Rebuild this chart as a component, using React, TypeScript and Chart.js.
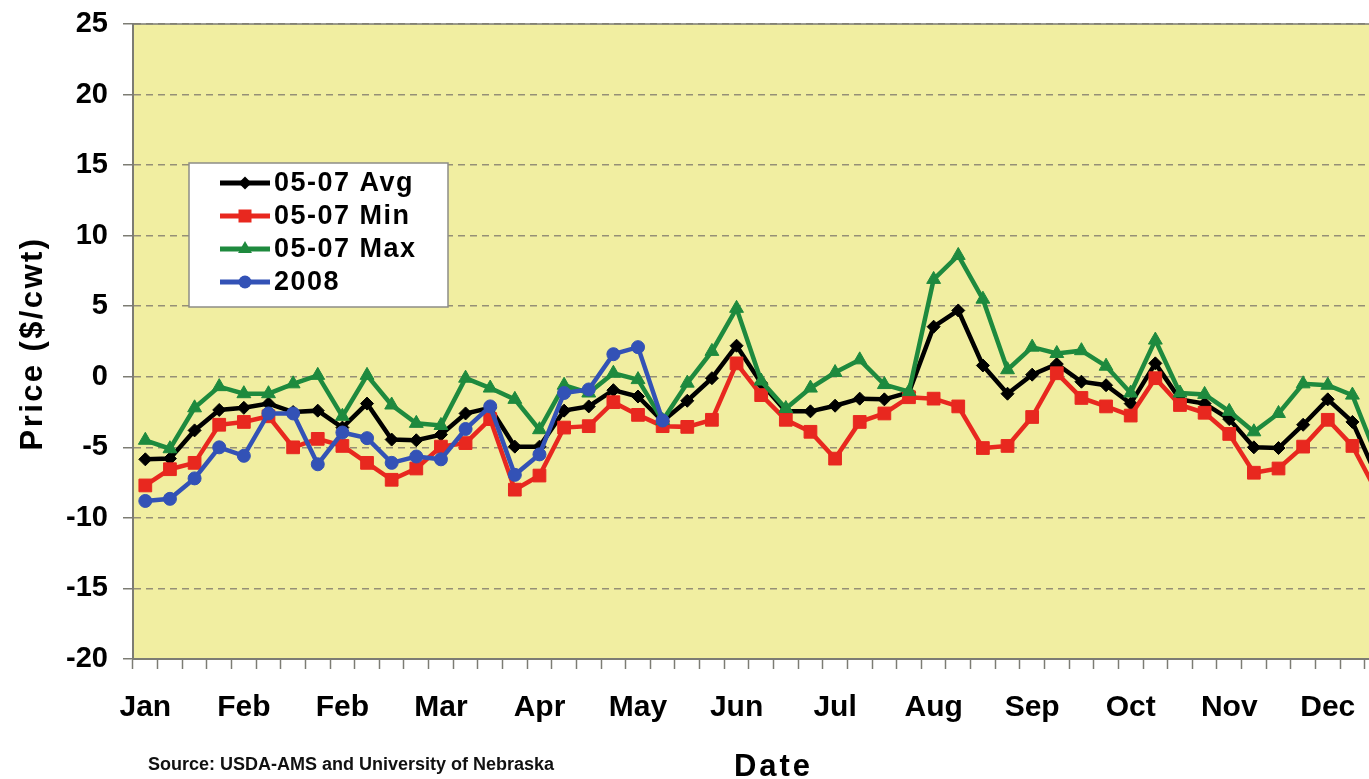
import React, { useEffect, useRef } from 'react';
import { Chart, registerables } from 'chart.js';

Chart.register(...registerables);

// ---------- data ----------
const MONTH_TICKS = ['Jan', 'Feb', 'Feb', 'Mar', 'Apr', 'May', 'Jun', 'Jul', 'Aug', 'Sep', 'Oct', 'Nov', 'Dec'];
const WEEKS = Array.from({ length: 52 }, (_, i) => `Week ${i + 1}`);

const AVG_0507 = [
  -5.85, -5.8, -3.8, -2.35, -2.2, -1.9, -2.5, -2.4, -3.6, -1.9,
  -4.45, -4.5, -4.1, -2.6, -2.2, -4.95, -4.95, -2.4, -2.1, -0.95,
  -1.4, -3.15, -1.7, -0.1, 2.2, -0.45, -2.45, -2.45, -2.05, -1.55,
  -1.6, -1.1, 3.55, 4.7, 0.8, -1.2, 0.15, 0.9, -0.35, -0.6,
  -1.9, 0.95, -1.6, -1.9, -3.0, -5.0, -5.05, -3.4, -1.6, -3.2,
  -7.1, -6.4,
];
const MIN_0507 = [
  -7.7, -6.55, -6.1, -3.4, -3.2, -2.8, -5.0, -4.4, -4.9, -6.1,
  -7.3, -6.5, -4.95, -4.7, -3.0, -8.0, -7.0, -3.6, -3.5, -1.8,
  -2.7, -3.5, -3.55, -3.05, 0.95, -1.3, -3.05, -3.9, -5.8, -3.2,
  -2.6, -1.45, -1.55, -2.1, -5.05, -4.9, -2.85, 0.25, -1.5, -2.1,
  -2.75, -0.1, -2.0, -2.55, -4.05, -6.8, -6.5, -4.95, -3.05, -4.9,
  -8.2, -7.6,
];
const MAX_0507 = [
  -4.5, -5.1, -2.2, -0.7, -1.2, -1.2, -0.5, 0.1, -2.8, 0.1,
  -2.0, -3.3, -3.45, -0.1, -0.8, -1.6, -3.75, -0.6, -1.15, 0.25,
  -0.2, -3.1, -0.45, 1.8, 4.85, -0.3, -2.25, -0.8, 0.3, 1.2,
  -0.55, -1.05, 6.9, 8.6, 5.5, 0.5, 2.1, 1.65, 1.85, 0.75,
  -1.15, 2.6, -1.15, -1.25, -2.45, -3.9, -2.6, -0.5, -0.6, -1.3,
  -5.7, -4.9,
];
const Y2008 = [
  -8.8, -8.65, -7.2, -5.0, -5.6, -2.6, -2.6, -6.2, -3.95, -4.35,
  -6.1, -5.65, -5.85, -3.7, -2.1, -6.95, -5.5, -1.15, -0.9, 1.6,
  2.1, -3.1,
];

const SERIES_NAMES = ['05-07 Avg', '05-07 Min', '05-07 Max', '2008'];
const SERIES_COLORS = ['#000000', '#E8281F', '#1E8A3E', '#3352B6'];
const Y_MIN = -20;
const Y_MAX = 25;
const Y_STEP = 5;

const Y_TITLE = 'Price ($/cwt)';
const X_TITLE = 'Date';
const SOURCE_NOTE = 'Source: USDA-AMS and University of Nebraska';

// ---------- styling ----------
const FONT = "'Liberation Sans', Arial, Helvetica, sans-serif";
const PLOT_BG = '#F1EEA1';
const AXIS_COLOR = '#7c7c74';
const GRID_COLOR = '#958f76';

function drawMarker(ctx: CanvasRenderingContext2D, kind: string, x: number, y: number, color: string) {
  ctx.fillStyle = color;
  ctx.beginPath();
  if (kind === 'diamond') {
    const r = 6.5;
    ctx.moveTo(x, y - r);
    ctx.lineTo(x + r, y);
    ctx.lineTo(x, y + r);
    ctx.lineTo(x - r, y);
    ctx.closePath();
  } else if (kind === 'square') {
    ctx.rect(x - 6.5, y - 6.5, 13, 13);
  } else if (kind === 'triangle') {
    const r = 8;
    ctx.moveTo(x, y - r);
    ctx.lineTo(x + r * 0.866, y + r / 2);
    ctx.lineTo(x - r * 0.866, y + r / 2);
    ctx.closePath();
  } else {
    ctx.arc(x, y, 6.5, 0, Math.PI * 2);
  }
  ctx.fill();
}

const MARKER_KINDS = ['diamond', 'square', 'triangle', 'circle'];

const decorPlugin = {
  id: 'decor',
  beforeDraw(chart: any) {
    const { ctx, chartArea: a } = chart;
    ctx.save();
    ctx.fillStyle = PLOT_BG;
    ctx.fillRect(a.left, a.top, a.right - a.left, a.bottom - a.top);
    ctx.restore();
  },
  beforeDatasetsDraw(chart: any) {
    const { ctx, chartArea: a } = chart;
    ctx.save();
    ctx.strokeStyle = AXIS_COLOR;
    ctx.lineWidth = 1.5;
    ctx.beginPath();
    ctx.moveTo(a.left, a.top);
    ctx.lineTo(a.right, a.top);
    ctx.lineTo(a.right, a.bottom);
    ctx.stroke();
    ctx.restore();
  },
  afterDraw(chart: any) {
    const { ctx, chartArea: a } = chart;
    ctx.save();
    // legend box
    const bx = 189;
    const by = 163;
    const bw = 259;
    const bh = 144;
    ctx.fillStyle = '#ffffff';
    ctx.fillRect(bx, by, bw, bh);
    ctx.strokeStyle = '#8d8d86';
    ctx.lineWidth = 1.5;
    ctx.strokeRect(bx, by, bw, bh);
    ctx.font = `bold 27px ${FONT}`;
    (ctx as any).letterSpacing = '1.5px';
    ctx.textBaseline = 'middle';
    ctx.textAlign = 'left';
    SERIES_NAMES.forEach((name, k) => {
      const y = 183 + k * 33;
      const color = SERIES_COLORS[k];
      ctx.strokeStyle = color;
      ctx.lineWidth = 5;
      ctx.beginPath();
      ctx.moveTo(220, y);
      ctx.lineTo(270, y);
      ctx.stroke();
      drawMarker(ctx, MARKER_KINDS[k], 245, y, color);
      ctx.fillStyle = '#000000';
      ctx.fillText(name, 274, y + 1);
    });

    // axis titles
    ctx.fillStyle = '#000000';
    ctx.textAlign = 'center';
    ctx.textBaseline = 'middle';
    ctx.font = `bold 31px ${FONT}`;
    (ctx as any).letterSpacing = '2.4px';
    ctx.save();
    ctx.translate(33, (a.top + a.bottom) / 2 + 2);
    ctx.rotate(-Math.PI / 2);
    ctx.fillText(Y_TITLE, 0, 0);
    ctx.restore();

    ctx.font = `bold 31px ${FONT}`;
    (ctx as any).letterSpacing = '3px';
    ctx.fillText(X_TITLE, (a.left + a.right) / 2, 767);

    // source note
    (ctx as any).letterSpacing = '0px';
    ctx.textAlign = 'left';
    ctx.font = `bold 18px ${FONT}`;
    ctx.fillStyle = '#111111';
    ctx.fillText(SOURCE_NOTE, 148, 765);
    ctx.restore();
  },
};

export default function App() {
  const canvasRef = useRef<HTMLCanvasElement | null>(null);

  useEffect(() => {
    const canvas = canvasRef.current;
    if (!canvas) return;
    Chart.defaults.font.family = FONT;
    Chart.defaults.color = '#000000';

    const lineCommon = {
      borderWidth: 4.5,
      pointBorderWidth: 1,
      fill: false,
      tension: 0,
    };

    const chart = new Chart(canvas, {
      type: 'line',
      data: {
        labels: WEEKS,
        datasets: [
          {
            ...lineCommon,
            label: SERIES_NAMES[0],
            data: AVG_0507,
            borderColor: SERIES_COLORS[0],
            backgroundColor: SERIES_COLORS[0],
            pointStyle: 'rectRot',
            pointRadius: 6.5,
            order: 4,
          },
          {
            ...lineCommon,
            label: SERIES_NAMES[1],
            data: MIN_0507,
            borderColor: SERIES_COLORS[1],
            backgroundColor: SERIES_COLORS[1],
            pointStyle: 'rect',
            pointRadius: 9,
            order: 3,
          },
          {
            ...lineCommon,
            label: SERIES_NAMES[2],
            data: MAX_0507,
            borderColor: SERIES_COLORS[2],
            backgroundColor: SERIES_COLORS[2],
            pointStyle: 'triangle',
            pointRadius: 8,
            order: 2,
          },
          {
            ...lineCommon,
            label: SERIES_NAMES[3],
            data: Y2008,
            borderColor: SERIES_COLORS[3],
            backgroundColor: SERIES_COLORS[3],
            pointStyle: 'circle',
            pointRadius: 6.5,
            order: 1,
          },
        ],
      },
      options: {
        responsive: false,
        animation: false,
        layout: { padding: { top: 24, right: 16, bottom: 0, left: 0 } },
        plugins: {
          legend: { display: false },
          tooltip: { enabled: false },
        },
        scales: {
          x: {
            type: 'category',
            offset: true,
            grid: {
              offset: true,
              drawOnChartArea: false,
              tickLength: 10,
              tickColor: AXIS_COLOR,
              tickWidth: 1.5,
            },
            border: { color: AXIS_COLOR, width: 2 },
            ticks: {
              autoSkip: false,
              maxRotation: 0,
              minRotation: 0,
              padding: 21,
              color: '#000000',
              font: { size: 30, weight: 'bold' },
              callback: (_v: any, index: number) => (index % 4 === 0 ? MONTH_TICKS[index / 4] ?? '' : ''),
            },
            afterFit: (scale: any) => {
              scale.height = 120;
            },
          },
          y: {
            min: Y_MIN,
            max: Y_MAX,
            ticks: {
              stepSize: Y_STEP,
              padding: 15,
              color: '#000000',
              font: { size: 29, weight: 'bold' },
            },
            grid: {
              color: GRID_COLOR,
              lineWidth: 1.5,
              tickLength: 10,
              tickColor: AXIS_COLOR,
              tickWidth: 1.5,
              tickBorderDash: [],
            },
            border: { color: AXIS_COLOR, width: 2, dash: [7, 5] },
            afterFit: (scale: any) => {
              scale.width = 133;
              scale.paddingTop = 0;
              scale.paddingBottom = 0;
            },
          },
        },
      },
      plugins: [decorPlugin],
    } as any);

    return () => chart.destroy();
  }, []);

  return (
    <div
      style={{
        position: 'fixed',
        left: 0,
        top: 0,
        width: 1369,
        height: 779,
        overflow: 'hidden',
        background: '#ffffff',
      }}
    >
      <canvas ref={canvasRef} width={1430} height={779} style={{ width: 1430, height: 779, display: 'block' }} />
    </div>
  );
}
